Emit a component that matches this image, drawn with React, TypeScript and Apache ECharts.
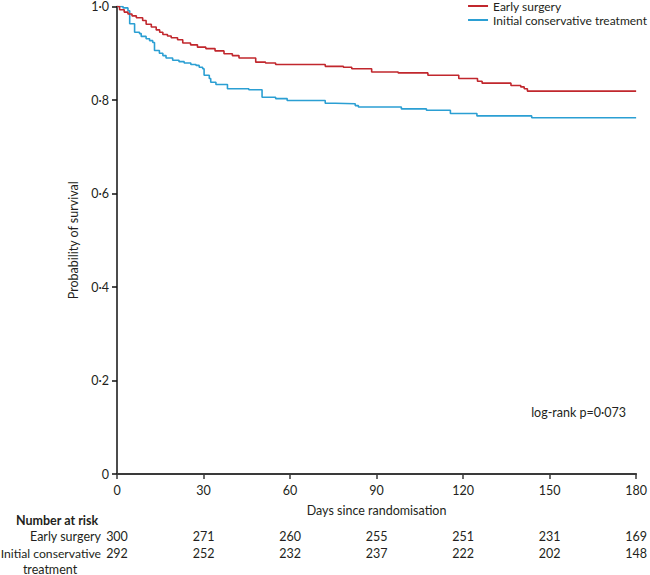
import React, { useEffect, useRef } from 'react';
import * as echarts from 'echarts';

// ---- data ----
const xTicks = [0, 30, 60, 90, 120, 150, 180];
const earlyRisk = [300, 271, 260, 255, 251, 231, 169];
const conservativeRisk = [292, 252, 232, 237, 222, 202, 148];

const earlyDays = [0, 0.9, 2.5, 3.8, 5.2, 6.7, 8.9, 10.1, 11.9, 13.6, 14.8, 15.9, 17.5, 18.8, 21, 22.8, 25.5, 27.9, 30.8, 34, 37.1, 40, 42.3, 48.1, 51.5, 55, 72.2, 78.5, 81.4, 88.3, 97.5, 107.8, 118.5, 125, 126.6, 136.6, 140, 141.2, 142.3, 180];
const earlySurv = [1.0, 0.993, 0.988, 0.984, 0.98, 0.976, 0.97, 0.962, 0.956, 0.95, 0.945, 0.94, 0.937, 0.933, 0.929, 0.922, 0.918, 0.913, 0.91, 0.905, 0.899, 0.895, 0.89, 0.881, 0.879, 0.876, 0.872, 0.87, 0.867, 0.86, 0.858, 0.853, 0.846, 0.84, 0.836, 0.831, 0.828, 0.824, 0.819, 0.819];

const consDays = [0, 2.1, 3.8, 4.4, 6.1, 7.8, 8.4, 10.1, 11.3, 12.4, 13, 14.7, 15.9, 17, 19.3, 21.5, 23.3, 25.6, 27.4, 28.5, 29.7, 30.2, 32, 32.5, 34.3, 38.3, 45.7, 50.3, 55, 59, 72.2, 75.7, 82.6, 83.7, 98.6, 107.3, 115.6, 124.8, 143.8, 180];
const consSurv = [1.0, 0.997, 0.991, 0.963, 0.945, 0.942, 0.936, 0.931, 0.927, 0.923, 0.906, 0.9, 0.895, 0.89, 0.885, 0.882, 0.879, 0.876, 0.874, 0.87, 0.867, 0.853, 0.846, 0.838, 0.833, 0.824, 0.822, 0.806, 0.803, 0.799, 0.793, 0.792, 0.788, 0.785, 0.781, 0.778, 0.771, 0.766, 0.762, 0.762];

const seriesNames = ['Early surgery', 'Initial conservative treatment'];
const FONT = 'Lato';
const TXT = '#231f20';
const RED = '#c1272d';
const BLUE = '#2b9fd3';

export default function App() {
  const ref = useRef<HTMLDivElement>(null);
  useEffect(() => {
    if (!ref.current) return;
    const chart = echarts.init(ref.current, undefined, { renderer: 'svg' });
    const riskAxis = (offset: number, values: number[]) => ({
      type: 'value',
      gridIndex: 0,
      position: 'bottom',
      offset,
      min: 0,
      max: 180,
      interval: 30,
      axisLine: { show: false },
      axisTick: { show: false },
      splitLine: { show: false },
      axisLabel: {
        margin: 0,
        fontFamily: FONT,
        fontSize: 12.5,
        color: TXT,
        showMinLabel: true,
        showMaxLabel: true,
        formatter: (v: number) => {
          const i = xTicks.indexOf(v);
          return i >= 0 ? String(values[i]) : '';
        },
      },
    });
    chart.setOption({
      animation: false,
      grid: { left: 117, right: 11, top: 6, bottom: 101, containLabel: false },
      legend: {
        data: seriesNames,
        orient: 'vertical',
        right: 3,
        top: 0,
        padding: 0,
        icon: 'rect',
        itemWidth: 20,
        itemHeight: 2,
        itemGap: 2,
        textStyle: { fontFamily: FONT, fontSize: 12, color: TXT },
      },
      xAxis: [
        {
          type: 'value',
          min: 0,
          max: 180,
          interval: 30,
          axisLine: { show: true, onZero: false, lineStyle: { color: '#3a3a3a', width: 2 } },
          axisTick: { show: true, length: 5, lineStyle: { color: '#3a3a3a', width: 1.5 } },
          axisLabel: { margin: 10, fontFamily: FONT, fontSize: 12.5, color: TXT, showMaxLabel: true },
          splitLine: { show: false },
          name: 'Days since randomisation',
          nameLocation: 'middle',
          nameGap: 30,
          nameTextStyle: { fontFamily: FONT, fontSize: 12.5, color: TXT },
        },
        riskAxis(56, earlyRisk),
        riskAxis(73, conservativeRisk),
      ],
      yAxis: {
        type: 'value',
        min: 0,
        max: 1,
        interval: 0.2,
        axisLine: { show: true, lineStyle: { color: '#111', width: 1.5 } },
        axisTick: { show: true, length: 5, lineStyle: { color: '#111', width: 1.5 } },
        axisLabel: {
          margin: 8,
          fontFamily: FONT,
          fontSize: 12.5,
          color: TXT,
          formatter: (v: number) => (v === 0 ? '0' : v.toFixed(1).replace('.', '·')),
        },
        splitLine: { show: false },
        name: 'Probability of survival',
        nameLocation: 'middle',
        nameGap: 33,
        nameTextStyle: { fontFamily: FONT, fontSize: 12.5, color: TXT },
      },
      series: [
        {
          name: seriesNames[0],
          type: 'line',
          step: 'end',
          symbol: 'none',
          xAxisIndex: 0,
          lineStyle: { color: RED, width: 1.6 },
          itemStyle: { color: RED },
          data: earlyDays.map((d, i) => [d, earlySurv[i]]),
          z: 3,
        },
        {
          name: seriesNames[1],
          type: 'line',
          step: 'end',
          symbol: 'none',
          xAxisIndex: 0,
          lineStyle: { color: BLUE, width: 1.6 },
          itemStyle: { color: BLUE },
          data: consDays.map((d, i) => [d, consSurv[i]]),
          z: 2,
        },
      ],
      graphic: [
        { type: 'text', x: 626, y: 412, style: { text: 'log-rank p=0·073', align: 'right', verticalAlign: 'middle', font: `12.5px ${FONT}`, fill: TXT } },
        { type: 'text', x: 16, y: 520, style: { text: 'Number at risk', align: 'left', verticalAlign: 'middle', font: `bold 12.5px ${FONT}`, fill: TXT } },
        { type: 'text', x: 101, y: 536, style: { text: 'Early surgery', align: 'right', verticalAlign: 'middle', font: `12.5px ${FONT}`, fill: TXT } },
        { type: 'text', x: 101, y: 553, style: { text: 'Initial conservative', align: 'right', verticalAlign: 'middle', font: `12.2px ${FONT}`, fill: TXT } },
        { type: 'text', x: 50, y: 569, style: { text: 'treatment', align: 'center', verticalAlign: 'middle', font: `12.5px ${FONT}`, fill: TXT } },
      ],
    });
    return () => chart.dispose();
  }, []);
  return <div ref={ref} style={{ position: 'absolute', left: 0, top: 0, width: 650, height: 575 }} />;
}
